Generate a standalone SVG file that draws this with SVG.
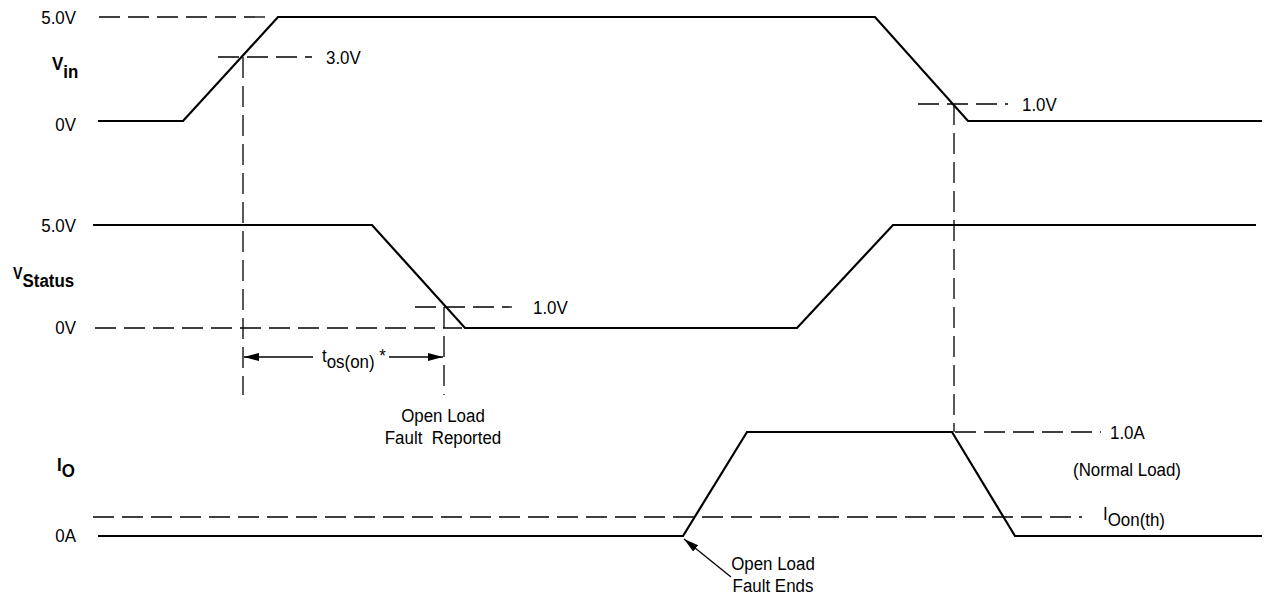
<svg xmlns="http://www.w3.org/2000/svg" width="1265" height="601" viewBox="0 0 1265 601">
<style>
text{font-family:"Liberation Sans",Arial,sans-serif;font-size:19px;fill:#000}
.b{font-weight:bold}
.w{fill:none;stroke:#000;stroke-width:2.2;stroke-linejoin:miter}
.d{fill:none;stroke:#000;stroke-width:1.3;stroke-dasharray:21 8}
.a{fill:none;stroke:#000;stroke-width:1.3}
.pre{white-space:pre}
</style>
<defs>
<marker id="ah" markerWidth="16" markerHeight="10" refX="15" refY="4" orient="auto" markerUnits="userSpaceOnUse">
<path d="M0,0 L15,4 L0,8 Z" fill="#000"/>
</marker>
</defs>
<rect width="1265" height="601" fill="#fff"/>
<g id="vin">
<path class="w" d="M98,121 L183,121 L278,17 L875,17 L968,121 L1262,121"/>
<text transform="translate(76,24) scale(.89,1)" text-anchor="end">5.0V</text>
<text transform="translate(76,131) scale(.89,1)" text-anchor="end">0V</text>
<text class="b" transform="translate(52,70) scale(.89,1)">V<tspan dy="8">in</tspan></text>
<text transform="translate(326,64) scale(.89,1)">3.0V</text>
<text transform="translate(1022,111) scale(.89,1)">1.0V</text>
</g>
<g id="vstatus">
<path class="w" d="M93,225 L372,225 L465,328 L797,328 L893,225 L1256,225"/>
<text transform="translate(76,232) scale(.89,1)" text-anchor="end">5.0V</text>
<text transform="translate(76,334) scale(.89,1)" text-anchor="end">0V</text>
<text class="b" transform="translate(13,279) scale(.89,1)"><tspan font-size="16">V</tspan><tspan dy="8">Status</tspan></text>
<text transform="translate(533,314) scale(.89,1)">1.0V</text>
</g>
<g id="io">
<path class="w" d="M98,536 L683,536 L747,432 L952,432 L1015,536 L1262,536"/>
<text transform="translate(76,542) scale(.89,1)" text-anchor="end">0A</text>
<text class="b" transform="translate(57,471) scale(.89,1)">I<tspan dy="6">O</tspan></text>
<text transform="translate(1110,439) scale(.89,1)">1.0A</text>
<text transform="translate(1073,476) scale(.89,1)">(Normal Load)</text>
<text transform="translate(1103,520) scale(.89,1)">I<tspan dy="6">Oon(th)</tspan></text>
</g>
<g id="tos">
<text transform="translate(322,362) scale(.89,1)">t<tspan dy="6">os(on)</tspan><tspan dy="-6"> *</tspan></text>
</g>
<g id="fault-reported">
<text transform="translate(443,422) scale(.89,1)" text-anchor="middle">Open Load</text>
<text class="pre" transform="translate(443,444) scale(.89,1)" text-anchor="middle" xml:space="preserve">Fault  Reported</text>
</g>
<g id="fault-ends">
<text transform="translate(773,570) scale(.89,1)" text-anchor="middle">Open Load</text>
<text transform="translate(773,592) scale(.89,1)" text-anchor="middle">Fault Ends</text>
</g>
<g id="connectors">
<line class="d" x1="99" y1="17" x2="272" y2="17"/>
<line class="d" x1="218" y1="57" x2="312" y2="57"/>
<line class="d" x1="243" y1="57" x2="243" y2="395"/>
<line class="d" x1="918" y1="104" x2="1008" y2="104"/>
<line class="d" x1="954" y1="104" x2="954" y2="432"/>
<line class="d" x1="415" y1="307" x2="512" y2="307"/>
<line class="d" x1="95" y1="328" x2="462" y2="328"/>
<line class="d" x1="444" y1="307" x2="444" y2="395"/>
<line class="d" x1="955" y1="432" x2="1101" y2="432"/>
<line class="d" x1="93" y1="517" x2="1082" y2="517"/>
<line class="a" x1="313" y1="357" x2="244" y2="357" marker-end="url(#ah)"/>
<line class="a" x1="389" y1="357" x2="443" y2="357" marker-end="url(#ah)"/>
<line class="a" x1="731" y1="577" x2="684" y2="539" marker-end="url(#ah)"/>
</g>
</svg>
